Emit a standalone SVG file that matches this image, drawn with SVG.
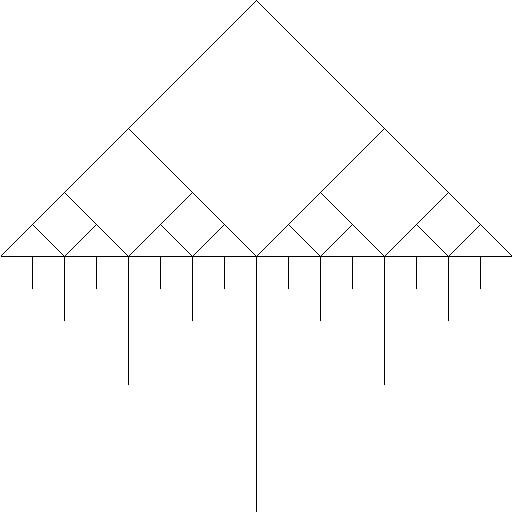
<svg xmlns="http://www.w3.org/2000/svg" width="512" height="512" viewBox="0 0 512 512">
<style>line{stroke:#000;stroke-width:1;shape-rendering:crispEdges}</style>
<rect width="512" height="512" fill="#fff"/>
<g transform="translate(0.5,0.5)">
<g id="triangle">
<line x1="0" y1="256" x2="512" y2="256"/>
<line x1="0" y1="256" x2="256" y2="0"/>
<line x1="256" y1="0" x2="512" y2="256"/>
<line x1="128" y1="128" x2="256" y2="256"/>
<line x1="384" y1="128" x2="256" y2="256"/>
<line x1="64" y1="192" x2="128" y2="256"/>
<line x1="192" y1="192" x2="128" y2="256"/>
<line x1="320" y1="192" x2="384" y2="256"/>
<line x1="448" y1="192" x2="384" y2="256"/>
<line x1="32" y1="224" x2="64" y2="256"/>
<line x1="96" y1="224" x2="64" y2="256"/>
<line x1="160" y1="224" x2="192" y2="256"/>
<line x1="224" y1="224" x2="192" y2="256"/>
<line x1="288" y1="224" x2="320" y2="256"/>
<line x1="352" y1="224" x2="320" y2="256"/>
<line x1="416" y1="224" x2="448" y2="256"/>
<line x1="480" y1="224" x2="448" y2="256"/>
</g>
<g id="stems">
<line x1="256" y1="256" x2="256" y2="512"/>
<line x1="128" y1="256" x2="128" y2="384"/>
<line x1="384" y1="256" x2="384" y2="384"/>
<line x1="64" y1="256" x2="64" y2="320"/>
<line x1="192" y1="256" x2="192" y2="320"/>
<line x1="320" y1="256" x2="320" y2="320"/>
<line x1="448" y1="256" x2="448" y2="320"/>
<line x1="32" y1="256" x2="32" y2="288"/>
<line x1="96" y1="256" x2="96" y2="288"/>
<line x1="160" y1="256" x2="160" y2="288"/>
<line x1="224" y1="256" x2="224" y2="288"/>
<line x1="288" y1="256" x2="288" y2="288"/>
<line x1="352" y1="256" x2="352" y2="288"/>
<line x1="416" y1="256" x2="416" y2="288"/>
<line x1="480" y1="256" x2="480" y2="288"/>
</g>
</g>
</svg>
